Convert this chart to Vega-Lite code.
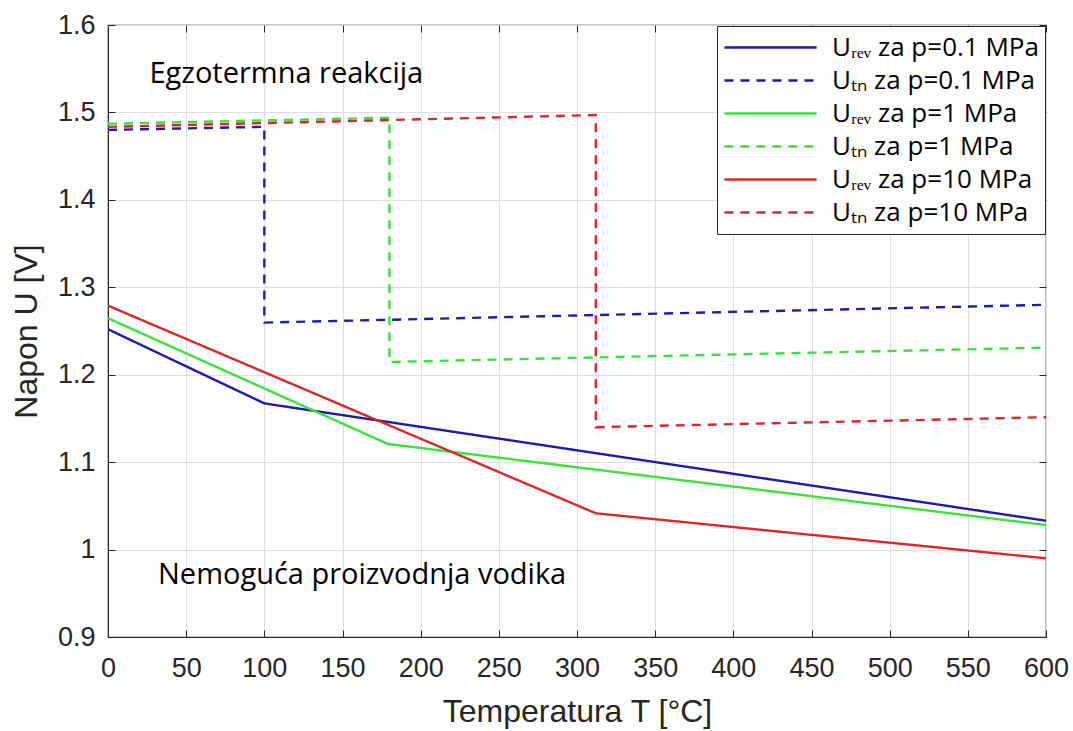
{
  "$schema": "https://vega.github.io/schema/vega-lite/v6.json",
  "width": 938,
  "height": 612,
  "autosize": {"type": "none"},
  "padding": {"left": 108, "top": 25, "right": 27, "bottom": 94},
  "background": "white",
  "config": {
    "view": {"stroke": "#262626", "strokeWidth": 1.2},
    "axis": {
      "labelFont": "Liberation Sans",
      "labelFontSize": 27,
      "labelColor": "#262626",
      "labelFlush": false,
      "labelOverlap": false,
      "titleFont": "Liberation Sans",
      "titleFontSize": 32,
      "titleFontWeight": "normal",
      "titleColor": "#262626",
      "gridColor": "#dedede",
      "gridWidth": 1,
      "domainColor": "#262626",
      "tickColor": "#262626"
    }
  },
  "datasets": {
    "lines": [
      {"series": "Uᵣₑᵥ za p=0.1 MPa", "i": 1, "T": 0, "U": 1.252},
      {"series": "Uᵣₑᵥ za p=0.1 MPa", "i": 2, "T": 100, "U": 1.1672},
      {"series": "Uᵣₑᵥ za p=0.1 MPa", "i": 3, "T": 600, "U": 1.033},
      {"series": "Uₜₙ za p=0.1 MPa", "i": 1, "T": 0, "U": 1.480},
      {"series": "Uₜₙ za p=0.1 MPa", "i": 2, "T": 100, "U": 1.4835},
      {"series": "Uₜₙ za p=0.1 MPa", "i": 3, "T": 100, "U": 1.2596},
      {"series": "Uₜₙ za p=0.1 MPa", "i": 4, "T": 600, "U": 1.280},
      {"series": "Uᵣₑᵥ za p=1 MPa", "i": 1, "T": 0, "U": 1.2646},
      {"series": "Uᵣₑᵥ za p=1 MPa", "i": 2, "T": 179, "U": 1.1208},
      {"series": "Uᵣₑᵥ za p=1 MPa", "i": 3, "T": 600, "U": 1.028},
      {"series": "Uₜₙ za p=1 MPa", "i": 1, "T": 0, "U": 1.487},
      {"series": "Uₜₙ za p=1 MPa", "i": 2, "T": 180, "U": 1.494},
      {"series": "Uₜₙ za p=1 MPa", "i": 3, "T": 180, "U": 1.2146},
      {"series": "Uₜₙ za p=1 MPa", "i": 4, "T": 600, "U": 1.231},
      {"series": "Uᵣₑᵥ za p=10 MPa", "i": 1, "T": 0, "U": 1.279},
      {"series": "Uᵣₑᵥ za p=10 MPa", "i": 2, "T": 312, "U": 1.0415},
      {"series": "Uᵣₑᵥ za p=10 MPa", "i": 3, "T": 600, "U": 0.990},
      {"series": "Uₜₙ za p=10 MPa", "i": 1, "T": 0, "U": 1.4835},
      {"series": "Uₜₙ za p=10 MPa", "i": 2, "T": 312, "U": 1.497},
      {"series": "Uₜₙ za p=10 MPa", "i": 3, "T": 312, "U": 1.140},
      {"series": "Uₜₙ za p=10 MPa", "i": 4, "T": 600, "U": 1.1514}
    ],
    "notes": [
      {"label": "Egzotermna reakcija", "T": 26.5, "U": 1.544},
      {"label": "Nemoguća proizvodnja vodika", "T": 32, "U": 0.971}
    ]
  },
  "layer": [
    {
      "data": {"name": "lines"},
      "mark": {"type": "line", "strokeWidth": 2.4, "clip": true},
      "encoding": {
        "x": {
          "field": "T", "type": "quantitative",
          "scale": {"domain": [0, 600], "nice": false, "zero": false},
          "axis": {
            "title": "Temperatura T [°C]",
            "values": [0, 50, 100, 150, 200, 250, 300, 350, 400, 450, 500, 550, 600],
            "tickSize": -7, "labelPadding": 25, "titlePadding": 15,
            "grid": true, "domain": true
          }
        },
        "y": {
          "field": "U", "type": "quantitative",
          "scale": {"domain": [0.9, 1.6], "nice": false, "zero": false},
          "axis": {
            "title": "Napon U [V]",
            "values": [0.9, 1.0, 1.1, 1.2, 1.3, 1.4, 1.5, 1.6],
            "format": ".1~f",
            "tickSize": -7, "labelPadding": 20, "titlePadding": 14,
            "grid": true, "domain": true
          }
        },
        "order": {"field": "i", "type": "quantitative"},
        "color": {
          "field": "series", "type": "nominal",
          "scale": {
            "domain": ["Uᵣₑᵥ za p=0.1 MPa", "Uₜₙ za p=0.1 MPa", "Uᵣₑᵥ za p=1 MPa", "Uₜₙ za p=1 MPa", "Uᵣₑᵥ za p=10 MPa", "Uₜₙ za p=10 MPa"],
            "range": ["#1c1ca6", "#1c1ca6", "#3ee03e", "#3ee03e", "#d42a2a", "#d42a2a"]
          },
          "legend": {
            "title": null,
            "orient": "top-right",
            "offset": 1,
            "fillColor": "white",
            "strokeColor": "#262626",
            "padding": 6,
            "symbolType": "stroke",
            "symbolSize": 8500,
            "symbolStrokeWidth": 2.4,
            "clipHeight": 31,
            "labelFont": "Open Sans",
            "labelFontSize": 26,
            "labelColor": "#000000",
            "labelLimit": 400,
            "labelOffset": 14,
            "rowPadding": 2
          }
        },
        "strokeDash": {
          "field": "series", "type": "nominal",
          "scale": {
            "domain": ["Uᵣₑᵥ za p=0.1 MPa", "Uₜₙ za p=0.1 MPa", "Uᵣₑᵥ za p=1 MPa", "Uₜₙ za p=1 MPa", "Uᵣₑᵥ za p=10 MPa", "Uₜₙ za p=10 MPa"],
            "range": [[1, 0], [9, 7], [1, 0], [9, 7], [1, 0], [9, 7]]
          },
          "legend": {"title": null}
        }
      }
    },
    {
      "data": {"name": "notes"},
      "mark": {"type": "text", "align": "left", "baseline": "middle", "font": "Open Sans", "fontSize": 29, "color": "#000000"},
      "encoding": {
        "x": {
          "field": "T", "type": "quantitative",
          "scale": {"domain": [0, 600], "nice": false, "zero": false},
          "axis": {"orient": "top", "values": [0, 50, 100, 150, 200, 250, 300, 350, 400, 450, 500, 550, 600], "labels": false, "title": null, "tickSize": -7, "grid": false, "domain": false}
        },
        "y": {
          "field": "U", "type": "quantitative",
          "scale": {"domain": [0.9, 1.6], "nice": false, "zero": false},
          "axis": {"orient": "right", "values": [0.9, 1.0, 1.1, 1.2, 1.3, 1.4, 1.5, 1.6], "labels": false, "title": null, "tickSize": -7, "grid": false, "domain": false}
        },
        "text": {"field": "label", "type": "nominal"}
      }
    }
  ],
  "resolve": {"axis": {"x": "independent", "y": "independent"}}
}
